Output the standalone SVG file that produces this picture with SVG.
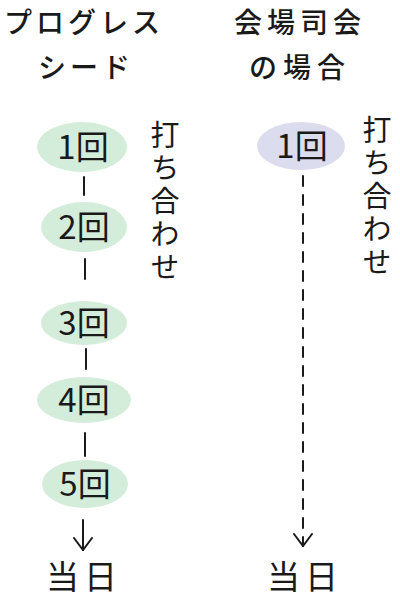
<svg xmlns="http://www.w3.org/2000/svg" width="400" height="600" viewBox="0 0 400 600">
<defs>
<style>
.t{font-family:"Noto Sans CJK JP","Noto Sans CJK SC",sans-serif;fill:#1a1a1a}
.h{font-size:28px;font-weight:500;text-anchor:middle}
.n{font-size:33px;text-anchor:middle}
.v{font-size:29px;writing-mode:vertical-rl;letter-spacing:4px}
.g{fill:#d4eddb}
.p{fill:#dcdcef}
.c{stroke:#1a1a1a;stroke-width:2;fill:none;stroke-linecap:round}
</style>
<marker id="ah" viewBox="0 0 14 20" refX="13" refY="10" markerWidth="14" markerHeight="20" markerUnits="userSpaceOnUse" orient="auto">
<path d="M1 1 L13 10 L1 19" fill="none" stroke="#1a1a1a" stroke-width="2" stroke-linecap="round"/>
</marker>
</defs>
<rect width="400" height="600" fill="#fff"/>
<g id="title-left">
<text class="t h" x="84" y="33" letter-spacing="4">プログレス</text>
<text class="t h" x="86" y="78" letter-spacing="4">シード</text>
</g>
<g id="title-right">
<text class="t h" x="300" y="33" letter-spacing="5">会場司会</text>
<text class="t h" x="300" y="78" letter-spacing="6">の場合</text>
</g>
<g id="connectors">
<line class="c" x1="84" y1="177" x2="84" y2="195"/>
<line class="c" x1="85" y1="259" x2="85" y2="279"/>
<line class="c" x1="86" y1="349" x2="86" y2="369"/>
<line class="c" x1="85" y1="433" x2="85" y2="456"/>
<line class="c" x1="83" y1="520" x2="83" y2="550" marker-end="url(#ah)"/>
<line class="c" x1="303" y1="176" x2="303" y2="546" stroke-dasharray="10,9" marker-end="url(#ah)"/>
</g>
<g id="node-l1"><ellipse class="g" cx="82" cy="147" rx="45" ry="25"/><text class="t n" x="83" y="159">1回</text></g>
<g id="node-l2"><ellipse class="g" cx="84" cy="227" rx="43" ry="25"/><text class="t n" x="84" y="239">2回</text></g>
<g id="node-l3"><ellipse class="g" cx="84" cy="323" rx="43" ry="22"/><text class="t n" x="84" y="335">3回</text></g>
<g id="node-l4"><ellipse class="g" cx="84" cy="400" rx="47" ry="23"/><text class="t n" x="84" y="412">4回</text></g>
<g id="node-l5"><ellipse class="g" cx="85" cy="484" rx="43" ry="24"/><text class="t n" x="85" y="496">5回</text></g>
<g id="label-l"><text class="t v" x="165" y="120">打ち合わせ</text></g>
<g id="day-l"><text class="t n" x="84" y="589" font-size="32" letter-spacing="5">当日</text></g>
<g id="node-r1"><ellipse class="p" cx="301" cy="146" rx="44" ry="24"/><text class="t n" x="302" y="158">1回</text></g>
<g id="label-r"><text class="t v" x="377" y="115">打ち合わせ</text></g>
<g id="day-r"><text class="t n" x="305" y="589" font-size="32" letter-spacing="5">当日</text></g>
</svg>
